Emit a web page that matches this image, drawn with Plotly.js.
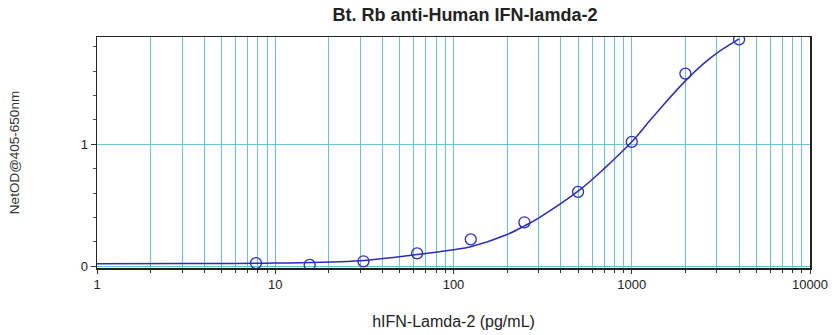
<!DOCTYPE html>
<html><head><meta charset="utf-8">
<script src="https://cdn.plot.ly/plotly-3.0.1.min.js"></script>
<style>html,body{margin:0;padding:0;background:#fff}#chart{width:835px;height:335px}</style>
</head><body><div id="chart"></div>
<script>
const conc = [7.8, 15.6, 31.25, 62.5, 125, 250, 500, 1000, 2000, 4000];
const od = [0.025, 0.01, 0.04, 0.105, 0.22, 0.36, 0.61, 1.02, 1.58, 1.86];
const fitX = [1, 3, 10, 30, 62.5, 100, 125, 200, 250, 300, 500, 700, 1000, 1250, 1500, 2000, 2500, 3000, 4000];
const fitY = [0.02, 0.021, 0.025, 0.045, 0.095, 0.135, 0.16, 0.26, 0.33, 0.395, 0.615, 0.8, 1.02, 1.186, 1.321, 1.52, 1.655, 1.748, 1.865];
const xTickVals = [1, 10, 100, 1000, 10000];
const xTickText = ['1', '10', '100', '1000', '10000'];
const yTickVals = [0, 1];

const minorX = [];
for (let d = 1; d < 10000; d *= 10) for (let k = 2; k <= 9; k++) minorX.push(d * k);

const blue = '#2b2bc4';
const grid = '#6cc3d3';
const data = [
  {x: fitX, y: fitY, mode: 'lines', line: {color: blue, width: 1.5, shape: 'spline', smoothing: 1}, hoverinfo: 'skip'},
  {x: conc, y: od, mode: 'markers', marker: {symbol: 'circle-open', size: 11, color: blue, line: {width: 1.3, color: blue}}}
];
const layout = {
  width: 835, height: 335,
  margin: {l: 97, r: 25, t: 37, b: 67},
  paper_bgcolor: '#fff', plot_bgcolor: '#fff',
  showlegend: false,
  font: {family: 'Liberation Sans, Arial, sans-serif', color: '#222'},
  title: {text: '<b>Bt. Rb anti-Human IFN-lamda-2</b>', font: {size: 18, color: '#222'}, xref: 'paper', x: 0.516, xanchor: 'center', yref: 'container', y: 0.955, yanchor: 'middle'},
  xaxis: {
    type: 'log', range: [0, 4],
    tickmode: 'array', tickvals: xTickVals, ticktext: xTickText,
    ticks: 'outside', ticklen: 4, tickcolor: '#333',
    showgrid: true, gridcolor: grid, gridwidth: 1,
    minor: {tickmode: 'array', tickvals: minorX, showgrid: true, gridcolor: grid, gridwidth: 1, ticks: 'outside', ticklen: 3, tickcolor: '#333'},
    showline: true, linecolor: '#222', linewidth: 1.5, mirror: true,
    tickfont: {size: 13, color: '#222'},
    title: {text: 'hIFN-Lamda-2 (pg/mL)', font: {size: 16, color: '#222'}, standoff: 24},
    zeroline: false
  },
  yaxis: {
    range: [-0.015, 1.88],
    tickmode: 'array', tickvals: yTickVals,
    ticks: 'outside', ticklen: 5, tickcolor: '#333',
    showgrid: true, gridcolor: grid, gridwidth: 1,
    minor: {dtick: 0.2, tick0: 0, ticks: 'outside', ticklen: 3, tickcolor: '#555', showgrid: false},
    showline: true, linecolor: '#222', linewidth: 1.5, mirror: true,
    tickfont: {size: 13, color: '#222'},
    title: {text: 'NetOD@405-650nm', font: {size: 13.5, color: '#333'}, standoff: 58},
    zeroline: false
  }
};
Plotly.newPlot('chart', data, layout, {displayModeBar: false, staticPlot: true});
</script></body></html>
